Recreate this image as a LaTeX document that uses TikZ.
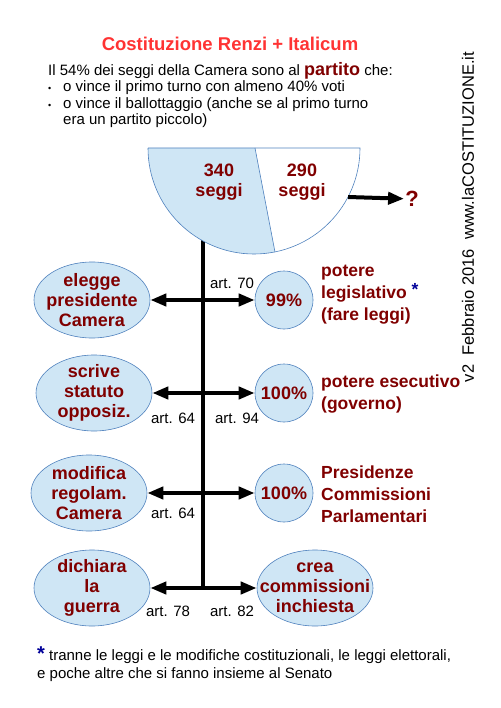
\documentclass[tikz,border=0pt]{standalone}
\usepackage{fontspec}
\setmainfont{Liberation Sans}
\usetikzlibrary{shapes.geometric,arrows.meta}
\definecolor{darkred}{HTML}{800000}
\definecolor{titlered}{HTML}{FF3333}
\definecolor{starblue}{HTML}{000099}
\definecolor{paleblue}{HTML}{CFE6F5}
\definecolor{edgeblue}{HTML}{4F81BD}
\newcommand{\fs}[2]{\fontsize{#1}{#2}\selectfont}

\begin{document}
\begin{tikzpicture}[x=1pt, y=1pt,
    task/.style={ellipse, draw=edgeblue, fill=paleblue, line width=0.6pt, minimum width=116pt, minimum height=76pt, inner sep=-20pt, align=center, text=darkred, font=\bfseries\fs{18}{20}},
    share/.style={circle, draw=edgeblue, fill=paleblue, line width=0.6pt, minimum size=58pt, inner sep=0pt, text=darkred, font=\bfseries\fs{18}{20}},
    seatlbl/.style={align=center, text=darkred, font=\bfseries\fs{18}{20}},
    power/.style={anchor=west, align=left, inner sep=0pt, text=darkred, font=\bfseries\fs{17.5}{22}},
    artlbl/.style={font=\fs{15}{17}},
    arr/.style={line width=4pt, -{Triangle[length=16pt,width=12pt]}}]
    \useasboundingbox (0,0) rectangle (500,-708);

    % titolo e premessa
    \node[text=titlered, font=\bfseries\fs{18.5}{20}] (title) at (230,-44) {Costituzione Renzi + Italicum};
    \node[anchor=north west, align=left, inner sep=0pt, font=\fs{15}{16.5}] (intro) at (48,-62) {Il 54\% dei seggi della Camera sono al {\color{darkred}\bfseries\fs{18}{16.5}partito} che:\\
        \makebox[15pt][l]{\fs{9}{9}•}o vince il primo turno con almeno 40\% voti\\
        \makebox[15pt][l]{\fs{9}{9}•}o vince il ballottaggio (anche se al primo turno\\
        \hspace*{15pt}era un partito piccolo)};
    \node[rotate=90, font=\fs{16.5}{18}] (web) at (468,-217) {v2\ \ Febbraio 2016\ \ www.laCOSTITUZIONE.it};

    % asse verticale
    \coordinate (top) at (203,-232);
    \coordinate (bot) at (203,-590);
    \draw[line width=4pt] (top) -- (bot);

    % semicerchio dei seggi
    \fill[paleblue] (148,-148) -- (255,-148) -- (275,-252) arc[start angle=281.4, end angle=180, radius=106] -- cycle;
    \draw[edgeblue, line width=0.6pt] (148,-148) -- (360,-148) arc[start angle=0, end angle=-180, radius=106];
    \draw[edgeblue, line width=0.6pt] (255,-148) -- (275,-252);
    \node[seatlbl] (maj) at (219,-182) {340\\seggi};
    \node[seatlbl] (min) at (302,-182) {290\\seggi};
    \coordinate (side) at (348,-197);
    \node[text=darkred, font=\bfseries\fs{22}{22}, inner sep=1pt] (q) at (412,-199) {?};
    \draw[arr] (side) -- (q);

    % righe
    \coordinate (j1) at (203,-300);
    \coordinate (j2) at (203,-393);
    \coordinate (j3) at (203,-493);
    \coordinate (j4) at (203,-588);

    \node[task] (camera) at (92,-300) {elegge\\presidente\\Camera};
    \node[share] (leg) at (284,-300) {99\%};
    \node[power] (legis) at (321,-295) {potere\\legislativo \textcolor{starblue}{\raisebox{3pt}{*}}\\(fare leggi)};
    \node[artlbl] (a70) at (232,-283) {art. 70};

    \node[task] (statuto) at (94,-393) {scrive\\statuto\\opposiz.};
    \node[share] (exe) at (284,-393) {100\%};
    \node[power] (gov) at (321,-394) {potere esecutivo\\(governo)};
    \node[artlbl] (a64) at (173,-418) {art. 64};
    \node[artlbl] (a94) at (237,-418) {art. 94};

    \node[task] (regol) at (89,-493) {modifica\\regolam.\\Camera};
    \node[share] (com) at (284,-493) {100\%};
    \node[power] (pres) at (321,-494) {Presidenze\\Commissioni\\Parlamentari};
    \node[artlbl] (a64b) at (173,-513) {art. 64};

    \node[task] (guerra) at (92,-588) {dichiara\\la\\guerra};
    \node[task] (inch) at (315,-588) {crea\\commissioni\\inchiesta};
    \node[artlbl] (a78) at (168,-611) {art. 78};
    \node[artlbl] (a82) at (232,-611) {art. 82};

    \draw[arr] (j1) -- (camera);
    \draw[arr] (j1) -- (leg);
    \draw[arr] (j2) -- (statuto);
    \draw[arr] (j2) -- (exe);
    \draw[arr] (j3) -- (regol);
    \draw[arr] (j3) -- (com);
    \draw[arr] (j4) -- (guerra);
    \draw[arr] (j4) -- (inch);

    % nota
    \node[anchor=west, align=left, inner sep=0pt, font=\fs{15}{18}] (note) at (37,-664) {{\color{starblue}\bfseries\fs{20}{18}*} tranne le leggi e le modifiche costituzionali, le leggi elettorali,\\e poche altre che si fanno insieme al Senato};
\end{tikzpicture}
\end{document}
